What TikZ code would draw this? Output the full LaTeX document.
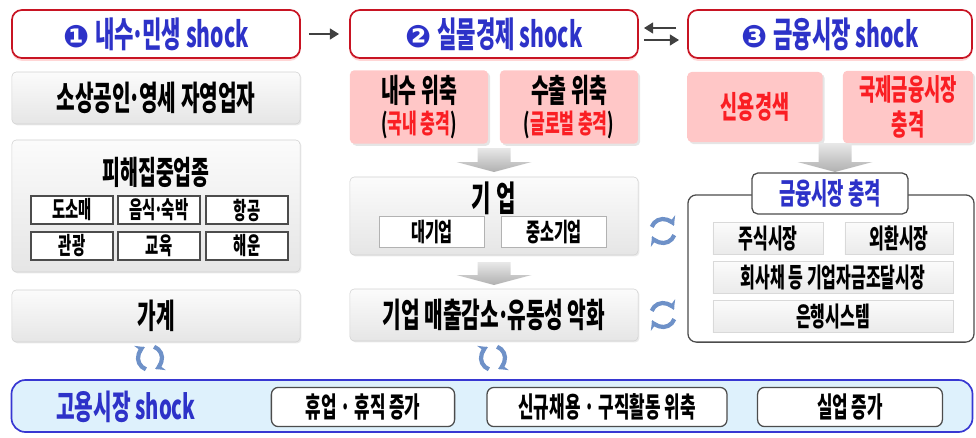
\documentclass[tikz,border=0pt]{standalone}
\usepackage{fontspec}
\usepackage{xcolor}
\usetikzlibrary{calc,arrows.meta,shadows}
\newfontfamily\kr[FakeStretch=0.6]{Noto Sans CJK KR}
\newfontfamily\dingfont{DejaVu Sans}
\newcommand\md{\kern-.06em·\kern-.06em}
\definecolor{hdred}{RGB}{200,20,35}
\definecolor{hdblue}{RGB}{45,50,200}
\definecolor{txred}{RGB}{250,30,35}
\definecolor{bandfill}{RGB}{222,241,252}
\definecolor{bandline}{RGB}{55,55,210}
\definecolor{cycblue}{RGB}{110,145,200}
\definecolor{arrgray}{RGB}{64,64,64}

\begin{document}
\begin{tikzpicture}[x=0.025cm,y=0.025cm,
  every node/.style={font=\kr\bfseries},
  header/.style={draw=hdred, line width=1.2pt, fill=white, rounded corners=7pt,
    minimum height=1.2cm, text=hdblue, font=\kr\bfseries\fontsize{25}{28}\selectfont,
    drop shadow={shadow xshift=0pt, shadow yshift=-2pt, fill=red!40, opacity=.4}},
  graybox/.style={draw=gray!35, rounded corners=3pt, top color=gray!3, bottom color=gray!20,
    minimum width=7.2cm, font=\kr\bfseries\fontsize{24}{28}\selectfont,
    drop shadow={shadow xshift=1pt, shadow yshift=-1pt, fill=gray!40, opacity=.4}},
  pinkbox/.style={rounded corners=3pt, top color=red!22, middle color=red!6, bottom color=red!22,
    minimum height=1.75cm, align=center,
    drop shadow={shadow xshift=1.5pt, shadow yshift=-1.5pt, fill=gray!50, opacity=.4}},
  subbox/.style={draw=gray!60!black, line width=.9pt, fill=white, minimum width=2.05cm,
    minimum height=.7cm, inner sep=0pt, font=\kr\bfseries\fontsize{17}{20}\selectfont},
  finbox/.style={draw=gray!30, top color=gray!3, bottom color=gray!16, minimum height=.8cm,
    inner sep=0pt, font=\kr\bfseries\fontsize{19}{22}\selectfont},
  empbox/.style={draw=gray!60!black, line width=.9pt, fill=white, rounded corners=5pt,
    minimum height=.98cm, font=\kr\bfseries\fontsize{20}{24}\selectfont},
  hdarrow/.style={draw=arrgray, line width=2pt, -{Triangle[length=6.5pt,width=7.5pt]}},
  cyc/.style={draw=cycblue, line width=3pt, -{Stealth[length=6.5pt,width=8pt]}},
  bigarrow/.style={top color=gray!18, bottom color=gray!62}]
\useasboundingbox (0,0) rectangle (976,-437);

% shock headers
\node[header, minimum width=7.2cm] (h1) at (156,-34) {{\dingfont\fontsize{22}{24}\selectfont ❶}\,내수\md 민생 shock};
\node[header, minimum width=7.2cm] (h2) at (494,-34) {{\dingfont\fontsize{22}{24}\selectfont ❷}\,실물경제 shock};
\node[header, minimum width=7.1cm] (h3) at (830,-34) {{\dingfont\fontsize{22}{24}\selectfont ❸}\,금융시장 shock};
\draw[hdarrow, shorten <=0.2cm, shorten >=0.25cm] (h1) -- (h2);
\draw[hdarrow, shorten <=0.275cm, shorten >=0.125cm] ([yshift=0.15cm]h3.west) -- ([yshift=0.15cm]h2.east);
\draw[hdarrow, shorten <=0.125cm, shorten >=0.2cm] ([yshift=-0.15cm]h2.east) -- ([yshift=-0.15cm]h3.west);

% left column
\node[graybox, minimum height=1.3cm] (sme) at (156,-98) {소상공인\md 영세 자영업자};
\node[graybox, minimum height=3.3cm] (dmg) at (156,-206) {};
\node[font=\kr\bfseries\fontsize{23}{26}\selectfont] (dmgt) at (156,-172) {피해집중업종};
\foreach \n/\x/\y/\t in {t1/72/-210/도소매, t2/159/-210/음식\md 숙박, t3/247/-210/항공,
  t4/72/-246/관광, t5/159/-246/교육, t6/247/-246/해운}
  \node[subbox] (\n) at (\x,\y) {\t};
\node[graybox, minimum height=1.3cm] (hh) at (156,-316) {가계};

% middle column
\node[pinkbox, minimum width=3.45cm] (dom) at (419,-107)
  {{\fontsize{23}{26}\selectfont 내수 위축}\\[3pt]{\fontsize{19}{22}\selectfont(\textcolor{txred}{국내 충격})}};
\node[pinkbox, minimum width=3.45cm] (exp) at (569,-107)
  {{\fontsize{23}{26}\selectfont 수출 위축}\\[3pt]{\fontsize{19}{22}\selectfont(\textcolor{txred}{글로벌 충격})}};
\node[graybox, minimum height=1.95cm] (firm) at (494,-216) {};
\node[font=\kr\bfseries\fontsize{25}{28}\selectfont] (firmt) at (494,-198) {기\,업};
\node[subbox, minimum width=2.62cm, minimum height=.78cm, draw=gray!60, font=\kr\bfseries\fontsize{18}{21}\selectfont]
  (big) at (432,-232) {대기업};
\node[subbox, minimum width=2.62cm, minimum height=.78cm, draw=gray!60, font=\kr\bfseries\fontsize{18}{21}\selectfont]
  (smc) at (554,-232) {중소기업};
\node[graybox, minimum height=1.3cm] (liq) at (494,-315) {기업 매출감소\md 유동성 악화};

% right column
\node[pinkbox, minimum width=3.38cm, text=txred, font=\kr\bfseries\fontsize{22}{26}\selectfont]
  (crunch) at (755,-107) {신용경색};
\node[pinkbox, minimum width=3.25cm, text=txred, font=\kr\bfseries\fontsize{21}{25}\selectfont]
  (intl) at (908,-107) {국제금융시장\\충격};
\node[draw=gray!60!black, line width=.9pt, fill=white, rounded corners=6pt,
  minimum width=7.15cm, minimum height=3.68cm] (fin) at (831,-268.5) {};
\node[draw=gray!60!black, line width=.9pt, fill=white, rounded corners=4pt, text=hdblue,
  minimum width=3.9cm, minimum height=1.02cm, font=\kr\bfseries\fontsize{21}{24}\selectfont]
  (finlbl) at (830,-193.5) {금융시장 충격};
\node[finbox, minimum width=2.75cm] (stock) at (768,-238) {주식시장};
\node[finbox, minimum width=2.7cm] (fx) at (899,-238) {외환시장};
\node[finbox, minimum width=6cm] (bond) at (833,-277) {회사채 등 기업자금조달시장};
\node[finbox, minimum width=6cm] (bank) at (833,-316) {은행시스템};

% big grey arrows
\coordinate (ar1) at (494,-148);
\coordinate (ar2) at (494,-262);
\coordinate (ar3) at (835,-143);
\foreach \p/\s in {ar1/14, ar2/13, ar3/19}
  \shade[bigarrow] (\p) ++(-16.5,0) -- ++(33,0) -- ++(0,-\s) -- ++(21,0)
    -- ++(-37.5,-10) -- ++(-37.5,10) -- ++(21,0) -- cycle;

% employment band
\node[draw=bandline, line width=1.2pt, fill=bandfill, rounded corners=10pt,
  minimum width=24.02cm, minimum height=1.3cm] (emp) at (492,-406) {};
\node[text=hdblue, font=\kr\bfseries\fontsize{24}{28}\selectfont] (empt) at (126,-407) {고용시장 shock};
\node[empbox, minimum width=4.58cm] (s1) at (363,-407) {휴업 · 휴직 증가};
\node[empbox, minimum width=6cm] (s2) at (607,-407) {신규채용 · 구직활동 위축};
\node[empbox, minimum width=4.62cm] (s3) at (850,-407) {실업 증가};

% cycle marks
\coordinate (cy1) at (663,-231);
\coordinate (cy2) at (663,-315);
\coordinate (cy3) at (150,-358);
\coordinate (cy4) at (493,-358);
\foreach \c/\r in {cy1/0, cy2/0, cy3/90, cy4/90} {
  \draw[cyc] (\c) ++(160+\r:12) arc[start angle=160+\r, end angle=25+\r, radius=12];
  \draw[cyc] (\c) ++(-20+\r:12) arc[start angle=-20+\r, end angle=-155+\r, radius=12];
}
\end{tikzpicture}
\end{document}
